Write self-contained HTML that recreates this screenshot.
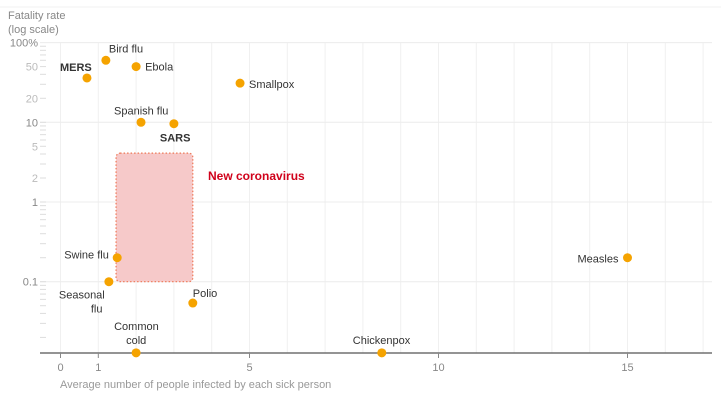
<!DOCTYPE html>
<html><head><meta charset="utf-8"><style>
body{margin:0;background:#fff;font-family:"Liberation Sans",sans-serif}
svg text{font-family:"Liberation Sans",sans-serif}
</style></head><body>
<svg id="chart" width="721" height="400" xmlns="http://www.w3.org/2000/svg">
<line x1="0" y1="7" x2="721" y2="7" stroke="#f2f2f2"/>
<text x="8" y="19" font-size="11" fill="#888">Fatality rate</text>
<text x="8" y="33" font-size="11" fill="#888">(log scale)</text>
<g id="grid"></g><g id="yticks"></g><g id="box"></g><g id="pts"></g>
<text x="60" y="388" font-size="11" fill="#999">Average number of people infected by each sick person</text>
</svg>
<script>
const diseases=["MERS","Bird flu","Ebola","Smallpox","Spanish flu","SARS","Swine flu","Seasonal flu","Polio","Common cold","Chickenpox","Measles"];
const r0=[0.7,1.2,2.0,4.75,2.13,3.0,1.5,1.28,3.5,2.0,8.5,15];
const fatality=[36,60,50,31,10,9.6,0.2,0.1,0.054,0.0128,0.0128,0.2];
const xTicks=[0,1,5,10,15];
const yTickVals=[100,50,20,10,5,2,1,0.1];
const yTickLabels=["100%","50","20","10","5","2","1","0.1"];
const boxRange=[1.47,3.5,0.1,4.1];
const X=v=>60.5+v*37.8, Y=v=>202-Math.log10(v)*79.7;
const NS="http://www.w3.org/2000/svg";
function mk(t,a,p,txt){const e=document.createElementNS(NS,t);for(const k in a)e.setAttribute(k,a[k]);if(txt!==undefined)e.textContent=txt;p.appendChild(e);return e;}
const grid=document.getElementById('grid'),yt=document.getElementById('yticks');
for(let i=0;i<=17;i++){const l=mk('line',{x1:X(i),x2:X(i),y1:43,y2:353,stroke:'#f0f0f0'},grid);

}
[100,10,1,0.1].forEach(v=>{const l=mk('line',{x1:40,x2:712,y1:Y(v),y2:Y(v),stroke:'#ececec'},grid);

});
for(let d=-2;d<2;d++)for(let m=1;m<10;m++){const v=m*Math.pow(10,d);if(v<0.013)continue;const l=mk('line',{x1:40,x2:46,y1:Y(v),y2:Y(v),stroke:'#ddd'},yt);

}
yTickVals.forEach((v,i)=>{const major=[100,10,1,0.1].includes(v);const t=mk('text',{x:38,y:Y(v)+4,'text-anchor':'end','font-size':11,fill:major?'#888':'#bbb'},yt,yTickLabels[i]);

});
const ax=mk('line',{x1:40,x2:712,y1:353,y2:353,stroke:'#555','stroke-width':1.2},yt);


xTicks.forEach(v=>{const l=mk('line',{x1:X(v),x2:X(v),y1:353,y2:358,stroke:'#888'},yt);


const t=mk('text',{x:X(v),y:371,'text-anchor':'middle','font-size':11,fill:'#888'},yt,String(v));

});
const bx=document.getElementById('box');
const rect=mk('rect',{x:X(boxRange[0]),y:Y(boxRange[3]),width:X(boxRange[1])-X(boxRange[0]),height:Y(boxRange[2])-Y(boxRange[3]),rx:4,fill:'#f6c9c9',stroke:'#ee7755','stroke-dasharray':'1.5 2','stroke-width':1.2},bx);


const nt=mk('text',{x:208,y:180,'font-size':12,'font-weight':'bold',fill:'#d0021b'},bx,'New coronavirus');


const lab={ "MERS":[-27,-7,'start',1],"Bird flu":[3,-8,'start'],"Ebola":[9,4,'start'],"Smallpox":[9,5,'start'],"Spanish flu":[-27,-8,'start'],"SARS":[-14,18,'start',1],"Swine flu":[-53,1,'start'],"Seasonal flu":[-50,17,'start'],"Polio":[0,-6,'start'],"Common cold":[-22,-23,'start'],"Chickenpox":[-29,-9,'start'],"Measles":[-50,5,'start']};
const pts=document.getElementById('pts');
diseases.forEach((d,i)=>{const cx=X(r0[i]),cy=Y(fatality[i]);
const c=mk('circle',{cx:cx,cy:cy,r:4.5,fill:'#f5a300'},pts);


const o=lab[d];const bold=o[3];
if(d==="Seasonal flu"){const t=mk('text',{x:cx+o[0],y:cy+o[1],'font-size':11,fill:'#333'},pts,'Seasonal');const t2=mk('text',{x:cx-18,y:cy+o[1]+14,'font-size':11,fill:'#333'},pts,'flu');return;}
if(d==="Common cold"){const t=mk('text',{x:cx+o[0],y:cy+o[1],'font-size':11,fill:'#333'},pts,'Common');const t2=mk('text',{x:cx-10,y:cy+o[1]+14,'font-size':11,fill:'#333'},pts,'cold');return;}
const t=mk('text',{x:cx+o[0],y:cy+o[1],'font-size':11,'font-weight':bold?'bold':'normal',fill:'#333'},pts,d);

});
</script>
</body></html>
